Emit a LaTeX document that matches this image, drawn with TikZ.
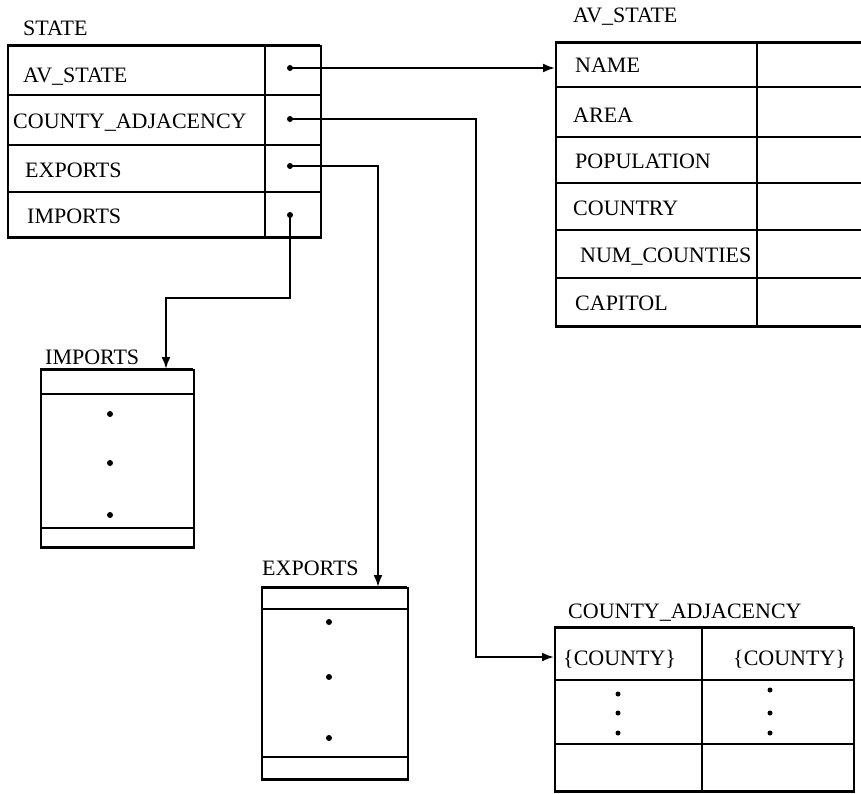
\documentclass[tikz,border=0pt]{standalone}
\usepackage{fontspec}
\setmainfont{Liberation Serif}
\usetikzlibrary{arrows.meta}
\begin{document}
\begin{tikzpicture}[x=1pt,y=-1pt,
 frame/.style={draw, line width=1.6pt, inner sep=0pt, anchor=north west},
 sepline/.style={line width=2.8pt},
 thinline/.style={line width=1.5pt},
 lab/.style={anchor=base west, inner sep=0pt, font=\fontsize{22}{26}\selectfont},
 conn/.style={line width=2.1pt, -{Latex[length=12pt,width=9pt]}},
 pt/.style={circle, fill, inner sep=0pt, minimum size=6pt},
]
\useasboundingbox (0,0) rectangle (861,793);

% ---------- STATE ----------
\node[lab] (tstate) at (23,35) {STATE};
\node[frame, minimum width=313pt, minimum height=192pt] (state) at (7,45) {};
\draw[sepline] (7,45) -- (320,45);
\draw[sepline] (7,95) -- (320,95);
\draw[sepline] (7,145) -- (320,145);
\draw[sepline] (7,192) -- (320,192);
\draw[sepline] (7,237) -- (320,237);
\draw[thinline] (265,45) -- (265,237);
\node[lab] (s1) at (23,82) {AV\_STATE};
\node[lab] (s2) at (13,128) {COUNTY\_ADJACENCY};
\node[lab] (s3) at (25,177) {EXPORTS};
\node[lab] (s4) at (27,223) {IMPORTS};
\node[pt] (pav) at (290,68) {};
\node[pt] (pca) at (290,119) {};
\node[pt] (pex) at (290,166) {};
\node[pt] (pim) at (290,215) {};

% ---------- AV_STATE ----------
\node[lab] (tav) at (573,22) {AV\_STATE};
\node[frame, minimum width=330pt, minimum height=284pt] (avtab) at (555,42) {};
\draw[sepline] (555,42) -- (885,42);
\draw[sepline] (555,87) -- (885,87);
\draw[sepline] (555,137) -- (885,137);
\draw[sepline] (555,183) -- (885,183);
\draw[sepline] (555,230) -- (885,230);
\draw[sepline] (555,278) -- (885,278);
\draw[sepline] (555,326) -- (885,326);
\draw[thinline] (757,42) -- (757,326);
\node[lab] (a1) at (575,72) {NAME};
\node[lab] (a2) at (573,122) {AREA};
\node[lab] (a3) at (575,168) {POPULATION};
\node[lab] (a4) at (573,215) {COUNTRY};
\node[lab] (a5) at (580,262) {NUM\_COUNTIES};
\node[lab] (a6) at (575,310) {CAPITOL};

% ---------- IMPORTS ----------
\node[lab] (tim) at (45,364) {IMPORTS};
\node[frame, minimum width=153pt, minimum height=178pt] (imtab) at (40,369) {};
\draw[sepline] (40,369) -- (193,369);
\draw[sepline] (40,394) -- (193,394);
\draw[sepline] (40,528) -- (193,528);
\draw[sepline] (40,547) -- (193,547);
\node[pt] (i1) at (110,414) {};
\node[pt] (i2) at (110,463) {};
\node[pt] (i3) at (110,515) {};

% ---------- EXPORTS ----------
\node[lab] (tex) at (262,575) {EXPORTS};
\node[frame, minimum width=146pt, minimum height=192pt] (extab) at (261,587) {};
\draw[sepline] (261,587) -- (407,587);
\draw[sepline] (261,609) -- (407,609);
\draw[sepline] (261,757) -- (407,757);
\draw[sepline] (261,779) -- (407,779);
\node[pt] (e1) at (329,622) {};
\node[pt] (e2) at (329,677) {};
\node[pt] (e3) at (329,738) {};

% ---------- COUNTY_ADJACENCY ----------
\node[lab] (tca) at (568,618) {COUNTY\_ADJACENCY};
\node[frame, minimum width=299pt, minimum height=164pt] (catab) at (554,627) {};
\draw[sepline] (554,627) -- (853,627);
\draw[sepline] (554,680) -- (853,680);
\draw[sepline] (554,744) -- (853,744);
\draw[sepline] (554,791) -- (853,791);
\draw[thinline] (702,627) -- (702,791);
\node[lab] (c1) at (563,665) {\{COUNTY\}};
\node[lab] (c2) at (733,665) {\{COUNTY\}};
\node[pt, minimum size=5pt] (d1) at (618,694) {};
\node[pt, minimum size=5pt] (d2) at (618,713) {};
\node[pt, minimum size=5pt] (d3) at (618,733) {};
\node[pt, minimum size=5pt] (d4) at (770,690) {};
\node[pt, minimum size=5pt] (d5) at (770,713) {};
\node[pt, minimum size=5pt] (d6) at (770,733) {};

% ---------- connectors ----------
\coordinate (cabend) at (476,657);
\coordinate (exx) at (378,0);
\coordinate (imbend) at (166,298);
\draw[conn] (pav.center) -- (avtab.west |- pav.center);
\draw[conn] (pca.center) -| (cabend) -- (catab.west |- cabend);
\draw[conn] (pex.center) -| (exx |- extab.north);
\draw[conn] (pim.center) |- (imbend) -- (imbend |- imtab.north);
\end{tikzpicture}
\end{document}
